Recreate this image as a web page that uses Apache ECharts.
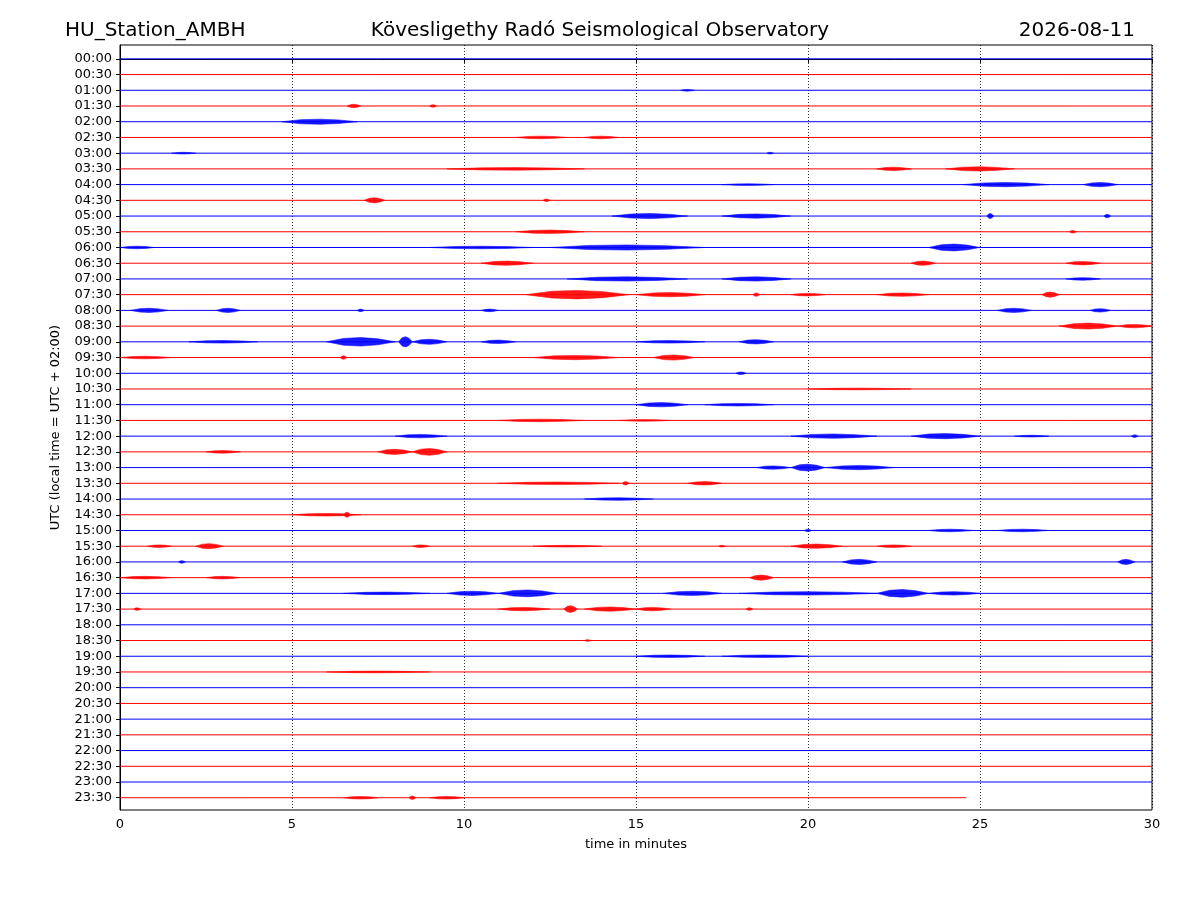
<!DOCTYPE html>
<html><head><meta charset="utf-8">
<script src="https://cdn.jsdelivr.net/npm/echarts@6/dist/echarts.min.js"></script>
<style>html,body{margin:0;background:#fff}#c{width:1200px;height:900px}</style>
</head><body><div id="c"></div>
<script>
const rowLabels = [];
for (let h = 0; h < 24; h++) { const hh = String(h).padStart(2,'0'); rowLabels.push(hh+':00', hh+':30'); }
const rowEnds = rowLabels.map((_, i) => i === 47 ? 24.6 : 30);
// bursts per row: [startMin, endMin, amplitude in pixels]
const bursts = {
 2:[[16.3,16.7,1]], 3:[[6.6,7.0,2],[9.0,9.2,1.5]], 4:[[4.7,6.9,3]],
 5:[[11.5,13,1.5],[13.5,14.5,1.5]], 6:[[1.5,2.2,1],[18.8,19,1]],
 7:[[9.5,13.5,1.5],[22,23,2],[24,26,2.5]], 8:[[17.5,19,1],[24.5,27,2.5],[28,29,2.5]],
 9:[[7.1,7.7,3],[12.3,12.5,1.5]], 10:[[14.3,16.5,3],[17.5,19.5,2.5],[25.2,25.4,3],[28.6,28.8,2]],
 11:[[11.5,13.5,2],[27.6,27.8,1.5]], 12:[[0,1,1.5],[9,12,1.5],[12.5,17,3],[23.5,25,4]],
 13:[[10.5,12,2.5],[23,23.7,2.5],[27.5,28.5,2]], 14:[[13,16.5,2.5],[17.5,19.5,2.5],[27.5,28.5,1.5]],
 15:[[11.8,14.8,5],[15,17,2.5],[18.4,18.6,2],[19.5,20.5,1.5],[22,23.5,2],[26.8,27.3,3]],
 16:[[0.3,1.4,2.5],[2.8,3.5,2.5],[6.9,7.1,1.5],[10.5,11,1.5],[25.5,26.5,2.5],[28.2,28.8,2]],
 17:[[27.3,29,3.5],[29,30,2]],
 18:[[2,4,1.5],[6,8,5],[8.1,8.5,6],[8.5,9.5,3],[10.5,11.5,2],[15,17,1.5],[18,19,2.5]],
 19:[[0,1.5,1.5],[6.4,6.6,2],[12,14.5,2.5],[15.5,16.7,3]], 20:[[17.9,18.2,1.5]],
 21:[[20,23,1]], 22:[[15,16.5,2.5],[17,19,1.5]], 23:[[11,13.5,1.5],[14.5,16,1]],
 24:[[8,9.5,2],[19.5,22,2.5],[23,25,3],[26,27,1],[29.4,29.6,1.5]],
 25:[[2.5,3.5,1.5],[7.5,8.5,3],[8.5,9.5,4]], 26:[[18.5,19.5,2],[19.5,20.5,4],[20.5,22.5,2.5]],
 27:[[11,14.5,1.5],[14.6,14.8,2],[16.5,17.5,2]], 28:[[13.5,15.5,1.5]], 29:[[5,7,1.5],[6.5,6.7,3]],
 30:[[19.9,20.1,1.5],[23.5,24.8,1.5],[25.5,27,1.5]],
 31:[[0.8,1.5,1.5],[2.2,3,3],[8.5,9,1.5],[12,14,1],[17.4,17.6,1],[19.5,21,2.5],[22,23,1.5]],
 32:[[1.7,1.9,1.5],[21,22,3],[29,29.5,3]], 33:[[0,1.5,1.5],[2.5,3.5,1.5],[18.3,19,3]],
 34:[[6.5,9,1.5],[9.5,11,2.5],[11,12.7,4],[15.8,17.5,2.5],[18,22,2],[22,23.5,4.5],[23.5,25,2]],
 35:[[0.4,0.6,1.5],[11,12.5,2],[12.9,13.3,4],[13.5,15,2.5],[15,16,2],[18.2,18.4,1.5]],
 37:[[13.5,13.7,1]], 38:[[15,17,1.5],[17.5,20,1.5]], 39:[[6,9,1]],
 47:[[6.5,7.5,1.5],[8.4,8.6,2],[9,10,1.5]]
};
const rowColor = i => i % 2 === 0 ? '#0000ff' : '#ff0000';
const baseData = rowLabels.map((_, i) => [i, rowEnds[i]]);
const burstData = [];
Object.keys(bursts).forEach(k => bursts[k].forEach(b => burstData.push([+k, b[0], b[1], b[2]])));

const chart = echarts.init(document.getElementById('c'));
chart.setOption({
  animation: false,
  textStyle: { fontFamily: 'DejaVu Sans' },
  title: [
    { text: 'HU_Station_AMBH', left: 60, top: 16, textStyle: { fontSize: 20, fontWeight: 'normal', color: '#000' } },
    { text: 'Kövesligethy Radó Seismological Observatory', left: 'center', top: 16, textStyle: { fontSize: 20, fontWeight: 'normal', color: '#000' } },
    { text: '2026-08-11', right: 60, top: 16, textStyle: { fontSize: 20, fontWeight: 'normal', color: '#000' } }
  ],
  grid: { left: 120, right: 48, top: 45, bottom: 90, show: true, borderColor: '#000', borderWidth: 1, backgroundColor: 'transparent' },
  xAxis: { type: 'value', min: 0, max: 30, interval: 5, name: 'time in minutes', nameLocation: 'middle', nameGap: 28,
    nameTextStyle: { fontSize: 13, color: '#000' },
    axisLine: { lineStyle: { color: '#000' } }, axisTick: { length: 4, lineStyle: { color: '#000' } },
    axisLabel: { fontSize: 13, color: '#000' },
    splitLine: { show: true, lineStyle: { color: '#000', type: [1, 2], width: 0.8 } } },
  yAxis: { type: 'value', inverse: true, min: -0.88, max: 47.78, name: 'UTC (local time = UTC + 02:00)', nameLocation: 'middle', nameGap: 58,
    nameTextStyle: { fontSize: 13, color: '#000' },
    axisLine: { show: true, lineStyle: { color: '#000' } },
    axisTick: { show: true, length: 4, customValues: rowLabels.map((_, i) => i), lineStyle: { color: '#000' } },
    axisLabel: { fontSize: 13, color: '#000', customValues: rowLabels.map((_, i) => i), formatter: v => rowLabels[Math.round(v)] },
    splitLine: { show: false } },
  series: [
    { type: 'custom', data: baseData, encode: { x: 1, y: 0 }, clip: true,
      renderItem: (params, api) => {
        const r = api.value(0), p0 = api.coord([0, r]), p1 = api.coord([api.value(1), r]);
        return { type: 'line', shape: { x1: p0[0], y1: p0[1], x2: p1[0], y2: p1[1] }, style: { stroke: rowColor(r), lineWidth: 1 } };
      } },
    { type: 'custom', data: burstData, encode: { x: [1, 2], y: 0 }, clip: true,
      renderItem: (params, api) => {
        const r = api.value(0), a = api.value(3) * 0.85;
        const p0 = api.coord([api.value(1), r]), p1 = api.coord([api.value(2), r]);
        const m = (p0[0] + p1[0]) / 2, q1 = p0[0] + (p1[0]-p0[0])*0.25, q3 = p0[0] + (p1[0]-p0[0])*0.75;
        return { type: 'polygon', shape: { points: [[p0[0], p0[1]], [q1, p0[1]-a*0.8], [m, p0[1]-a], [q3, p0[1]-a*0.7], [p1[0], p0[1]], [q3, p0[1]+a*0.7], [m, p0[1]+a], [q1, p0[1]+a*0.8]] },
          style: { fill: rowColor(r), stroke: rowColor(r), lineWidth: 0.6, opacity: 0.9 } };
      } }
  ]
});
</script></body></html>
